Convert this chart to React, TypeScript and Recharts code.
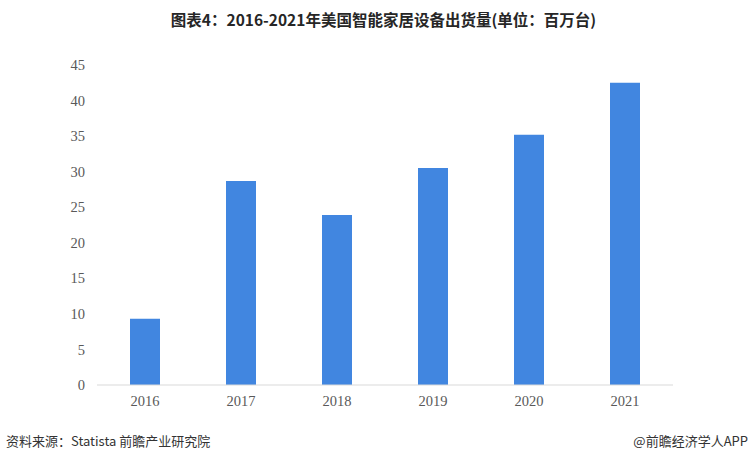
import { BarChart, Bar, XAxis, YAxis } from 'recharts'

const YEARS = ['2016', '2017', '2018', '2019', '2020', '2021']
const SHIPMENTS = [9.3, 28.7, 23.9, 30.5, 35.2, 42.5]
const Y_TICKS = [0, 5, 10, 15, 20, 25, 30, 35, 40, 45]

const TITLE = '图表4：2016-2021年美国智能家居设备出货量(单位：百万台)'
const SOURCE = '资料来源：Statista 前瞻产业研究院'
const CREDIT = '@前瞻经济学人APP'

const data = YEARS.map((year, i) => ({ year, value: SHIPMENTS[i] }))

const tickStyle = { fontFamily: '"Liberation Serif", "Times New Roman", serif', fontSize: 14.5, fill: '#595959' }

export default function App() {
  return (
    <div style={{ position: 'relative', width: 753, height: 461, background: '#fff' }}>
      <style>{'body{margin:0}'}</style>
      <div
        style={{
          position: 'absolute',
          top: 8,
          left: 7,
          width: 753,
          textAlign: 'center',
          fontFamily: '"Noto Sans CJK SC", sans-serif',
          fontWeight: 700,
          fontSize: 15.5,
          color: '#262626',
        }}
      >
        {TITLE}
      </div>
      <BarChart
        width={753}
        height={461}
        data={data}
        margin={{ top: 65, right: 80, bottom: 46, left: 0 }}
      >
        <XAxis
          dataKey="year"
          axisLine={{ stroke: '#d9d9d9' }}
          tickLine={false}
          tick={tickStyle}
          tickMargin={5}
          height={30}
        />
        <YAxis
          domain={[0, 45]}
          ticks={Y_TICKS}
          axisLine={false}
          tickLine={false}
          tick={tickStyle}
          tickMargin={6}
          width={97}
        />
        <Bar dataKey="value" fill="#4186E0" barSize={30} isAnimationActive={false} />
      </BarChart>
      <div
        style={{
          position: 'absolute',
          top: 431,
          left: 6,
          fontFamily: '"Noto Sans CJK SC", sans-serif',
          fontSize: 13,
          color: '#333',
        }}
      >
        {SOURCE}
      </div>
      <div
        style={{
          position: 'absolute',
          top: 431,
          right: 5,
          fontFamily: '"Noto Sans CJK SC", sans-serif',
          fontSize: 13,
          color: '#333',
        }}
      >
        {CREDIT}
      </div>
    </div>
  )
}
